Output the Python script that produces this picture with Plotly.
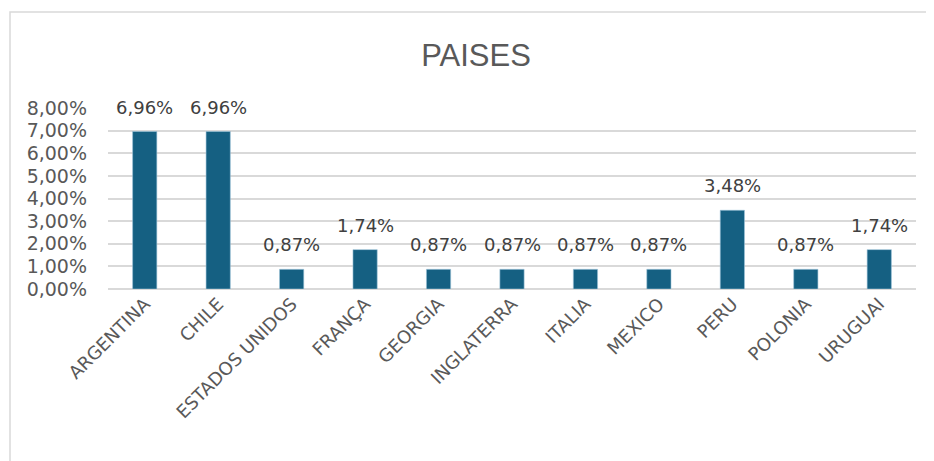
import plotly.graph_objects as go

categories = ["ARGENTINA", "CHILE", "ESTADOS UNIDOS", "FRANÇA", "GEORGIA",
              "INGLATERRA", "ITALIA", "MEXICO", "PERU", "POLONIA", "URUGUAI"]
values = [0.0696, 0.0696, 0.0087, 0.0174, 0.0087, 0.0087, 0.0087, 0.0087,
          0.0348, 0.0087, 0.0174]
y_ticks = [0, 0.01, 0.02, 0.03, 0.04, 0.05, 0.06, 0.07, 0.08]

font_family = "DejaVu Sans, Liberation Sans, sans-serif"
text_color = "#595959"

# page body has an 8px offset; compensate so the plot area lands where the reference has it
OFF = 8
W, H = 934, 461
L, T = 108 - OFF, 108 - OFF
R = W - (916 - OFF)
B = H - (289 - OFF)
pw, ph = W - L - R, H - T - B

fig = go.Figure(go.Bar(
    x=categories, y=values,
    marker=dict(color="#156082", line=dict(color="#9cc3d8", width=0.6)),
    hoverinfo="x+y",
))

annotations = [
    dict(x=c, y=v, xref="x", yref="y", text=f"{v*100:.2f}%".replace(".", ","),
         showarrow=False, yanchor="bottom", yshift=12,
         font=dict(size=18, color="#404040", family=font_family))
    for c, v in zip(categories, values)
]

fig.update_layout(
    width=W, height=H,
    margin=dict(l=L, r=R, t=T, b=B, autoexpand=False),
    paper_bgcolor="white", plot_bgcolor="white",
    separators=",.",
    showlegend=False,
    bargap=0.67,
    title=dict(text="PAISES", x=(476 - OFF) / W, xanchor="center",
               y=1 - (55 - OFF) / H, yanchor="middle",
               font=dict(size=31, color=text_color,
                         family="Liberation Sans Narrow, Liberation Sans, sans-serif")),
    xaxis=dict(tickangle=-45, automargin=False,
               tickfont=dict(size=18, color=text_color, family=font_family),
               showgrid=False, showline=False, ticks=""),
    yaxis=dict(range=[0, 0.08], tickvals=y_ticks, tickformat=".2%", automargin=False,
               tickfont=dict(size=19, color=text_color, family=font_family),
               ticklabelstandoff=20,
               showgrid=True, gridcolor="#d9d9d9", gridwidth=1.5,
               zeroline=True, zerolinecolor="#d9d9d9", zerolinewidth=1.5,
               showline=False, ticks=""),
    annotations=annotations,
    shapes=[dict(type="rect", xref="paper", yref="paper",
                 x0=(10 - OFF - L) / pw, x1=(W + 30 - L) / pw,
                 y0=-(B + 30) / ph, y1=1 + (T - (12 - OFF)) / ph,
                 line=dict(color="#d9d9d9", width=1.5), fillcolor="rgba(0,0,0,0)", layer="below")],
)

fig.write_html("out.html")
